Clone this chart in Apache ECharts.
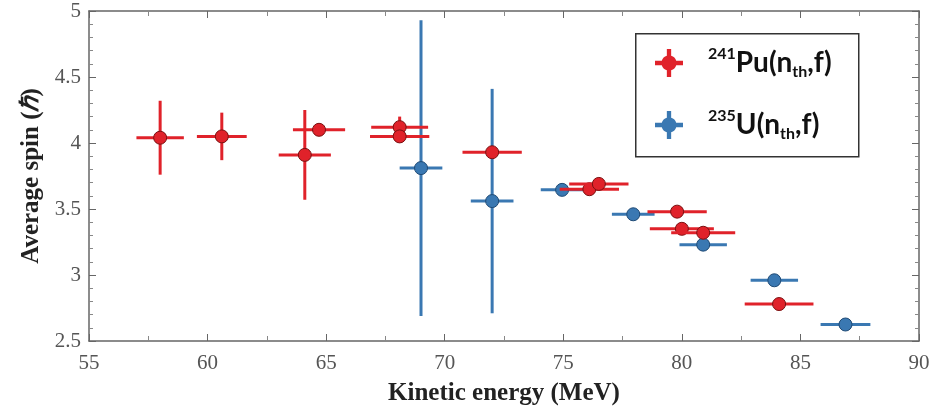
<!DOCTYPE html>
<html>
<head>
<meta charset="utf-8">
<script src="https://cdn.jsdelivr.net/npm/echarts@6/dist/echarts.min.js"></script>
<style>html,body{margin:0;padding:0;background:#fff}#c{width:938px;height:414px}</style>
</head>
<body>
<div id="c"></div>
<script>
// 241Pu(n_th,f): kinetic energy (MeV), average spin, x error, y error
var pu_x    = [58.0, 60.6, 64.1, 64.7, 68.1, 68.1, 72.0, 76.1, 76.5, 79.8, 80.0, 80.9, 84.1];
var pu_y    = [4.04, 4.05, 3.91, 4.10, 4.12, 4.05, 3.93, 3.65, 3.69, 3.48, 3.35, 3.32, 2.78];
var pu_xerr = [1.0, 1.05, 1.1, 1.1, 1.2, 1.25, 1.25, 1.25, 1.25, 1.25, 1.35, 1.35, 1.45];
var pu_yerr = [0.28, 0.18, 0.34, 0.03, 0.08, 0.03, 0.03, 0.03, 0.03, 0.03, 0.03, 0.03, 0.03];
// 235U(n_th,f)
var u_x    = [69.0, 72.0, 74.95, 77.95, 80.9, 83.9, 86.9];
var u_y    = [3.81, 3.56, 3.645, 3.46, 3.23, 2.96, 2.625];
var u_xerr = [0.9, 0.9, 0.9, 0.9, 1.0, 1.0, 1.05];
var u_yerr = [1.12, 0.85, 0.03, 0.03, 0.03, 0.03, 0.03];

var xTicks = [55, 60, 65, 70, 75, 80, 85, 90];
var yTicks = [2.5, 3, 3.5, 4, 4.5, 5];

var RED = '#e0222a', RED_EDGE = '#7a1010';
var BLUE = '#3a78b2', BLUE_EDGE = '#1f4a75';

function build(xs, ys, xe, ye) {
  return xs.map(function (x, i) { return [x, ys[i], xe[i], ye[i]]; });
}

function makeRender(color, edge) {
  return function (params, api) {
    var x = api.value(0), y = api.value(1), xe = api.value(2), ye = api.value(3);
    var c = api.coord([x, y]);
    var l = api.coord([x - xe, y]), r = api.coord([x + xe, y]);
    var t = api.coord([x, y + ye]), b = api.coord([x, y - ye]);
    return {
      type: 'group',
      children: [
        { type: 'line', shape: { x1: l[0], y1: l[1], x2: r[0], y2: r[1] }, style: { stroke: color, lineWidth: 3 } },
        { type: 'line', shape: { x1: t[0], y1: t[1], x2: b[0], y2: b[1] }, style: { stroke: color, lineWidth: 3 } },
        { type: 'circle', shape: { cx: c[0], cy: c[1], r: 6.5 }, style: { fill: color, stroke: edge, lineWidth: 1 } }
      ]
    };
  };
}

// union outline of a cross and a circle (legend icon)
var iconPath = 'path://M0,11 L6.3,11 A7,7 0 0,1 11,6.3 L11,0 L15,0 L15,6.3 A7,7 0 0,1 19.7,11 L26,11 L26,15 L19.7,15 A7,7 0 0,1 15,19.7 L15,26 L11,26 L11,19.7 A7,7 0 0,1 6.3,15 L0,15 Z';

var chart = echarts.init(document.getElementById('c'), null, { renderer: 'canvas' });
var axisLineStyle = { color: '#666', width: 1.5 };

chart.setOption({
  backgroundColor: '#fff',
  animation: false,
  textStyle: { fontFamily: 'Liberation Serif' },
  grid: { left: 89, right: 19, top: 11, bottom: 73 },
  xAxis: [{
    type: 'value', min: 55, max: 90, interval: 5,
    axisLine: { lineStyle: axisLineStyle },
    axisTick: { inside: true, length: 7, lineStyle: { color: '#666' } },
    minorTick: { show: true, splitNumber: 2, length: 5, lineStyle: { color: '#888' } },
    splitLine: { show: false },
    axisLabel: { margin: 12, fontFamily: 'Liberation Serif', fontSize: 21, color: '#555',
      formatter: function (v) { return xTicks.indexOf(v) >= 0 ? String(v) : ''; } },
    name: 'Kinetic energy (MeV)', nameLocation: 'middle', nameGap: 40,
    nameTextStyle: { fontFamily: 'Liberation Serif', fontWeight: 'bold', fontSize: 25, color: '#222' }
  }, {
    type: 'value', position: 'top', min: 55, max: 90, interval: 5,
    axisLine: { show: true, lineStyle: axisLineStyle },
    axisTick: { inside: true, length: 7, lineStyle: { color: '#666' } },
    minorTick: { show: true, splitNumber: 2, length: 5, lineStyle: { color: '#888' } },
    splitLine: { show: false }, axisLabel: { show: false }
  }],
  yAxis: [{
    type: 'value', min: 2.5, max: 5, interval: 0.5,
    axisLine: { show: true, lineStyle: axisLineStyle },
    axisTick: { inside: true, length: 7, lineStyle: { color: '#666' } },
    minorTick: { show: true, splitNumber: 5, length: 4, lineStyle: { color: '#888' } },
    splitLine: { show: false },
    axisLabel: { margin: 8, fontFamily: 'Liberation Serif', fontSize: 21, color: '#555',
      formatter: function (v) { return yTicks.indexOf(v) >= 0 ? String(v) : ''; } },
    name: '{b|Average spin (}{i|ℏ}{b|)}', nameLocation: 'middle', nameGap: 42,
    nameTextStyle: {
      color: '#222',
      rich: {
        b: { fontFamily: 'Liberation Serif', fontWeight: 'bold', fontSize: 25, color: '#222' },
        i: { fontFamily: 'Liberation Serif', fontWeight: 'bold', fontStyle: 'italic', fontSize: 25, color: '#222' }
      }
    }
  }, {
    type: 'value', position: 'right', min: 2.5, max: 5, interval: 0.5,
    axisLine: { show: true, lineStyle: axisLineStyle },
    axisTick: { inside: true, length: 7, lineStyle: { color: '#666' } },
    minorTick: { show: true, splitNumber: 5, length: 4, lineStyle: { color: '#888' } },
    splitLine: { show: false }, axisLabel: { show: false }
  }],
  graphic: [{
    type: 'rect', left: 635, top: 33, shape: { width: 223, height: 123 },
    style: { fill: '#fff', stroke: '#333', lineWidth: 1.5 }, z: 5
  }],
  legend: {
    orient: 'vertical', left: 650, top: 41, itemWidth: 28, itemHeight: 28, itemGap: 28,
    z: 10,
    data: [
      { name: 'Pu', icon: iconPath },
      { name: 'U', icon: iconPath }
    ],
    formatter: function (n) {
      return n === 'Pu' ? '{sp|}{sup|241}{m|Pu(n}{sub|th}{m|,f)}' : '{sp|}{sup|235}{m|U(n}{sub|th}{m|,f)}';
    },
    textStyle: {
      rich: {
        sp: { width: 20 },
        m: { fontFamily: 'Lato', fontWeight: 'bold', fontSize: 28, color: '#111', lineHeight: 34 },
        sup: { fontFamily: 'Lato', fontWeight: 'bold', fontSize: 16, color: '#111', verticalAlign: 'top', lineHeight: 34 },
        sub: { fontFamily: 'Lato', fontWeight: 'bold', fontSize: 16, color: '#111', verticalAlign: 'bottom', lineHeight: 34 }
      }
    }
  },
  series: [{
    name: 'U', type: 'custom', xAxisIndex: 0, yAxisIndex: 0,
    itemStyle: { color: BLUE },
    renderItem: makeRender(BLUE, BLUE_EDGE),
    encode: { x: 0, y: 1 },
    data: build(u_x, u_y, u_xerr, u_yerr), z: 2
  }, {
    name: 'Pu', type: 'custom', xAxisIndex: 0, yAxisIndex: 0,
    itemStyle: { color: RED },
    renderItem: makeRender(RED, RED_EDGE),
    encode: { x: 0, y: 1 },
    data: build(pu_x, pu_y, pu_xerr, pu_yerr), z: 3
  }]
});
</script>
</body>
</html>
